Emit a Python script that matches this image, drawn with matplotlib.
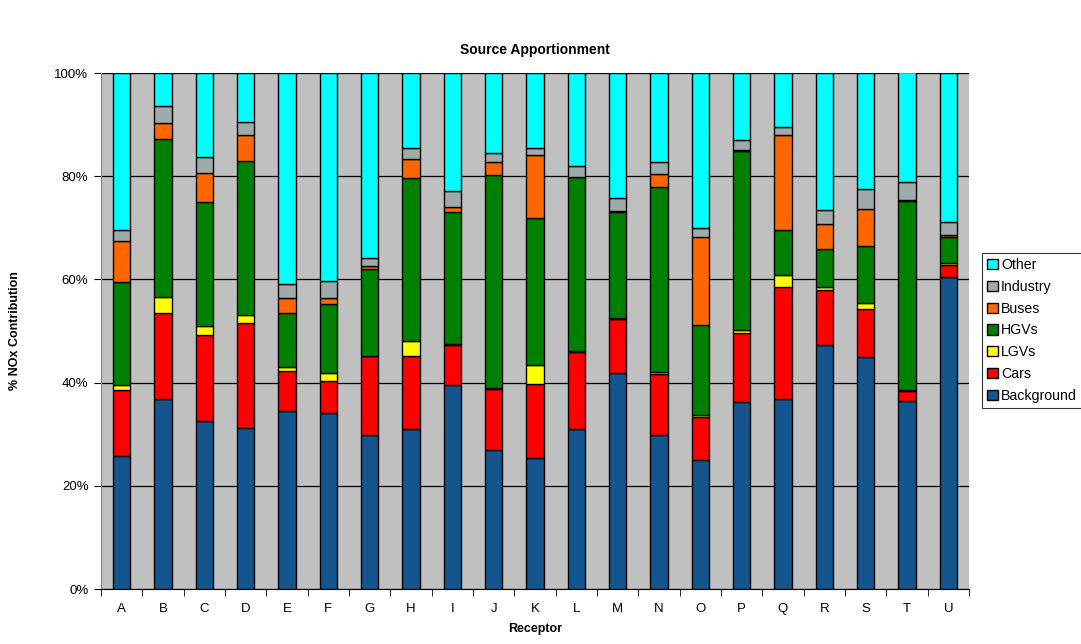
import matplotlib
matplotlib.use("Agg")
import matplotlib.pyplot as plt
import numpy as np
from matplotlib.ticker import PercentFormatter

plt.rcParams['font.family'] = ['Liberation Sans', 'DejaVu Sans']

receptors = list("ABCDEFGHIJKLMNOPQRSTU")
background = [25.7, 36.8, 32.5, 31.2, 34.5, 34.1, 29.9, 31.0, 39.5, 26.9, 25.3, 31.0, 41.8, 29.8, 25.0, 36.3, 36.9, 47.3, 45.0, 36.5, 60.5]
cars       = [12.8, 16.6, 16.7, 20.4, 7.7, 6.2, 15.2, 14.1, 7.7, 11.8, 14.5, 14.9, 10.6, 11.8, 8.4, 13.4, 21.7, 10.6, 9.2, 1.8, 2.2]
lgvs       = [1.1, 3.2, 1.7, 1.6, 0.9, 1.5, 0.1, 2.9, 0.3, 0.2, 3.6, 0.2, 0.2, 0.5, 0.3, 0.5, 2.3, 0.7, 1.2, 0.2, 0.4]
hgvs       = [19.9, 30.7, 24.1, 29.7, 10.4, 13.5, 16.8, 31.7, 25.6, 41.4, 28.5, 33.7, 20.5, 35.9, 17.4, 34.7, 8.6, 7.3, 11.0, 36.7, 5.2]
buses      = [8.0, 3.1, 5.6, 5.0, 2.9, 1.1, 0.6, 3.7, 1.0, 2.4, 12.2, 0.1, 0.1, 2.4, 17.1, 0.2, 18.4, 4.8, 7.2, 0.2, 0.4]
industry   = [2.1, 3.2, 3.1, 2.7, 2.8, 3.3, 1.6, 2.1, 3.1, 1.8, 1.3, 2.0, 2.5, 2.4, 1.7, 1.9, 1.7, 2.8, 3.9, 3.4, 2.5]
other      = [30.4, 6.4, 16.3, 9.4, 40.8, 40.3, 35.9, 14.5, 22.8, 15.5, 14.6, 18.2, 24.4, 17.2, 30.1, 13.0, 10.4, 26.5, 22.5, 21.4, 28.8]

series_names = ["Background", "Cars", "LGVs", "HGVs", "Buses", "Industry", "Other"]
series_values = [background, cars, lgvs, hgvs, buses, industry, other]
series_colors = ["#13558C", "#FF0000", "#FFFF00", "#008000", "#FF6600", "#9FAAAA", "#00FFFF"]

fig = plt.figure(figsize=(10.81, 6.44), dpi=100)
ax = fig.add_axes([0.0934, 0.0854, 0.8030, 0.8012])
ax.set_facecolor("#C0C0C0")

x = np.arange(len(receptors))
bottom = np.zeros(len(receptors))
handles = []
for name, vals, col in zip(series_names, series_values, series_colors):
    v = np.array(vals, dtype=float)
    b = ax.bar(x, v, width=0.42, bottom=bottom, color=col, edgecolor="black",
               linewidth=1.0, label=name, zorder=3)
    handles.append(b)
    bottom += v

ax.set_xlim(-0.5, len(receptors) - 0.5)
ax.set_ylim(0, 100)
ax.set_yticks(np.arange(0, 101, 20))
ax.yaxis.set_major_formatter(PercentFormatter(decimals=0))
ax.grid(axis="y", color="black", linewidth=0.9, zorder=1)
ax.set_axisbelow(True)

ax.set_xticks(x)
ax.set_xticklabels(receptors)
ax.tick_params(axis="x", which="major", length=0, pad=10, labelsize=9.5)
ax.set_xticks(np.arange(-0.5, len(receptors), 1), minor=True)
ax.tick_params(axis="x", which="minor", length=5, direction="out", color="black")
ax.tick_params(axis="y", length=5, direction="out", labelsize=9.5, pad=4)

for s in ["top", "right"]:
    ax.spines[s].set_visible(False)
ax.spines["left"].set_color("#808080")
ax.spines["bottom"].set_color("black")

ax.set_title("Source Apportionment", fontsize=10, fontweight="bold", pad=14)
ax.set_ylabel("% NOx Contribution", fontsize=9, fontweight="bold", labelpad=24)
ax.set_xlabel("Receptor", fontsize=9, fontweight="bold", labelpad=6)

leg = fig.legend(handles[::-1], series_names[::-1], loc="upper left",
                 bbox_to_anchor=(0.9085, 0.607), frameon=True, fancybox=False,
                 edgecolor="black", fontsize=10.2, handlelength=0.75, handleheight=0.75,
                 handletextpad=0.25, labelspacing=0.55, borderpad=0.35, borderaxespad=0)
leg.get_frame().set_linewidth(0.8)

fig.savefig("out.png", dpi=100)
